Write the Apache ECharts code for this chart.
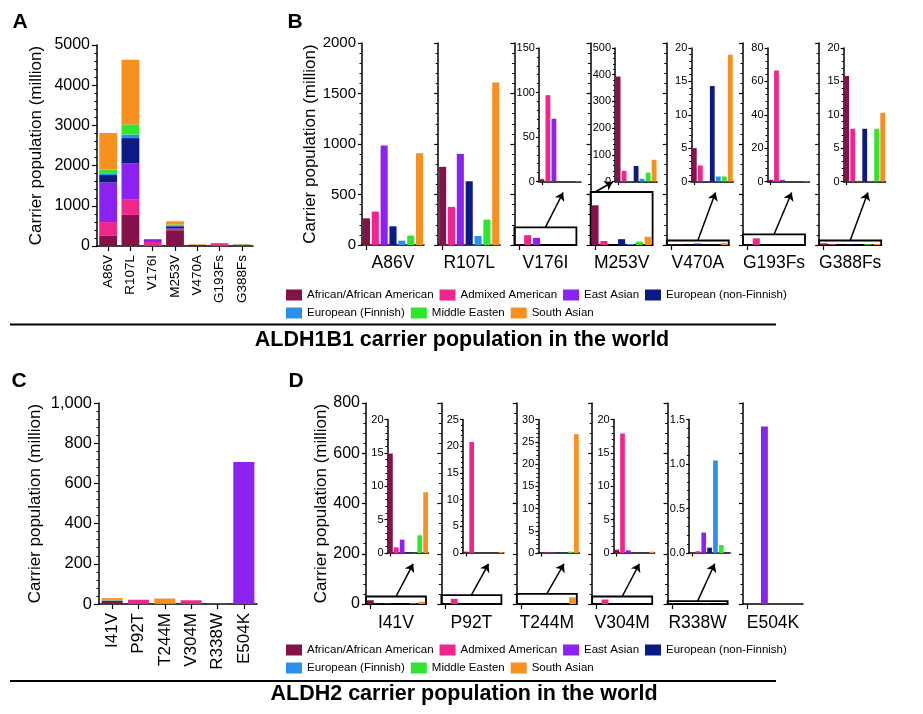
<!DOCTYPE html>
<html>
<head>
<meta charset="utf-8">
<script src="https://cdn.jsdelivr.net/npm/echarts@6.0.0/dist/echarts.min.js"></script>
<style>
  html, body { margin: 0; padding: 0; background: #fff; }
  #chart { width: 923px; height: 714px; }
</style>
</head>
<body>
<div id="chart"></div>
<script>
'use strict';

// populations, same order in every panel
const POPULATIONS = ['African/African American', 'Admixed American', 'East Asian',
  'European (non-Finnish)', 'European (Finnish)', 'Middle Easten', 'South Asian'];
const POP_COLORS = ['#86104a', '#f0268c', '#8b22f2', '#0c1a86', '#2a90ee', '#2ee62e', '#f7901e'];

// ALDH1B1 carriers (million), one array per population, one value per variant
const ALDH1B1_VARIANTS = ['A86V', 'R107L', 'V176I', 'M253V', 'V470A', 'G193Fs', 'G388Fs'];
const ALDH1B1_AFRICAN     = [264, 774, 2.6, 393, 5.0, 1.0, 15.8];
const ALDH1B1_ADMIXED     = [331, 377, 97, 40, 2.4, 66.5, 7.9];
const ALDH1B1_EAST_ASIAN  = [985, 902, 70.5, 0, 0, 1.0, 0.1];
const ALDH1B1_EUR_NONFIN  = [185, 631, 0, 58, 14.3, 0, 7.9];
const ALDH1B1_EUR_FIN     = [43, 89, 0, 10, 0.75, 0, 0.1];
const ALDH1B1_MID_EAST    = [93, 251, 0, 33, 0.75, 0, 7.9];
const ALDH1B1_SOUTH_ASIAN = [909, 1610, 0.5, 81, 19.0, 0.3, 10.3];
const ALDH1B1_INSET_MAX   = [null, null, 150, 500, 20, 80, 20];
const ALDH1B1_INSET_STEP  = [null, null, 50, 100, 5, 20, 5];

// ALDH2 carriers (million)
const ALDH2_VARIANTS = ['I41V', 'P92T', 'T244M', 'V304M', 'R338W', 'E504K'];
const ALDH2_AFRICAN     = [14.9, 0.25, 0, 0.5, 0, 0];
const ALDH2_ADMIXED     = [0.85, 20.8, 0.1, 17.9, 0.02, 0];
const ALDH2_EAST_ASIAN  = [2.0, 0, 0.1, 0.4, 0.23, 706];
const ALDH2_EUR_NONFIN  = [0.1, 0, 0.1, 0, 0.06, 0];
const ALDH2_EUR_FIN     = [0, 0, 0, 0, 1.04, 0];
const ALDH2_MID_EAST    = [2.65, 0, 0.3, 0, 0.09, 0];
const ALDH2_SOUTH_ASIAN = [9.1, 0.2, 26.7, 0.2, 0, 0];
const ALDH2_INSET_MAX   = [20, 25, 30, 20, 1.5, null];
const ALDH2_INSET_STEP  = [5, 5, 5, 5, 0.5, null];

const ALDH1B1_TABLE = [ALDH1B1_AFRICAN, ALDH1B1_ADMIXED, ALDH1B1_EAST_ASIAN, ALDH1B1_EUR_NONFIN,
  ALDH1B1_EUR_FIN, ALDH1B1_MID_EAST, ALDH1B1_SOUTH_ASIAN];
const ALDH2_TABLE = [ALDH2_AFRICAN, ALDH2_ADMIXED, ALDH2_EAST_ASIAN, ALDH2_EUR_NONFIN,
  ALDH2_EUR_FIN, ALDH2_MID_EAST, ALDH2_SOUTH_ASIAN];

const FONT = '"Liberation Sans", Arial, Helvetica, sans-serif';
const Y_TITLE = 'Carrier population (million)';
const BLACK = '#000';

const grids = [];
const xAxes = [];
const yAxes = [];
const series = [];

function plainNumber(v) { return String(v); }

function column(table, j) { return table.map(row => row[j]); }

function coloredBars(values) {
  return values.map((v, i) => ({ value: v, itemStyle: { color: POP_COLORS[i] } }));
}

function addGrid(left, top, width, height) {
  grids.push({ left: left, top: top, width: width, height: height,
    containLabel: false, outerBoundsMode: 'none' });
  return grids.length - 1;
}

function addCategoryAxis(gridIndex, categories, opts) {
  const axis = {
    type: 'category', gridIndex: gridIndex, data: categories, boundaryGap: true,
    axisLine: { show: true, onZero: false, lineStyle: { color: BLACK, width: 1.5 } },
    axisTick: { show: true, alignWithLabel: true, length: opts.tickLength || 5,
      lineStyle: { color: BLACK, width: 1.2 } },
    axisLabel: Object.assign({ show: false, color: BLACK, fontFamily: FONT }, opts.axisLabel),
    splitLine: { show: false }
  };
  if (opts.name) {
    axis.name = opts.name;
    axis.nameLocation = 'middle';
    axis.nameGap = opts.nameGap;
    axis.nameTextStyle = { color: BLACK, fontFamily: FONT, fontSize: opts.nameSize };
  }
  xAxes.push(axis);
  return xAxes.length - 1;
}

function addValueAxis(gridIndex, max, interval, opts) {
  const axis = {
    type: 'value', gridIndex: gridIndex, min: 0, max: max, interval: interval,
    axisLine: { show: true, lineStyle: { color: BLACK, width: 1.5 } },
    axisTick: { show: true, length: opts.tickLength || 4, lineStyle: { color: BLACK, width: 1.2 } },
    minorTick: { show: true, splitNumber: 5, length: opts.minorLength || 2.5,
      lineStyle: { color: BLACK, width: 1 } },
    splitLine: { show: false },
    minorSplitLine: { show: false },
    axisLabel: Object.assign({ show: false, color: BLACK, fontFamily: FONT, margin: 6 }, opts.axisLabel)
  };
  if (opts.name) {
    axis.name = opts.name;
    axis.nameLocation = 'middle';
    axis.nameGap = opts.nameGap;
    axis.nameTextStyle = { color: BLACK, fontFamily: FONT, fontSize: 17 };
  }
  yAxes.push(axis);
  return yAxes.length - 1;
}

// stacked totals per variant (panels A and C)
function buildStackedPanel(cfg) {
  const g = addGrid(cfg.left, cfg.top, cfg.width, cfg.height);
  const x = addCategoryAxis(g, cfg.variants, {
    axisLabel: { show: true, rotate: 90, fontSize: cfg.labelSize, margin: 9, interval: 0 }
  });
  const y = addValueAxis(g, cfg.max, cfg.interval, {
    tickLength: 5,
    axisLabel: { show: true, fontSize: cfg.tickSize, formatter: cfg.formatter, margin: 7 },
    name: Y_TITLE, nameGap: cfg.yNameGap
  });
  cfg.table.forEach((values, i) => {
    series.push({
      type: 'bar', name: POPULATIONS[i], stack: cfg.stack, xAxisIndex: x, yAxisIndex: y,
      barWidth: '80%', itemStyle: { color: POP_COLORS[i] }, data: values
    });
  });
}

// one small panel per variant, with a zoomed inset where the bars are tiny (panels B and D)
function buildGroupedPanels(cfg) {
  const perPx = cfg.max / cfg.height;
  cfg.variants.forEach((variant, j) => {
    const left = cfg.left + j * cfg.step;
    const g = addGrid(left, cfg.top, cfg.width, cfg.height);
    const x = addCategoryAxis(g, POPULATIONS, {
      name: variant, nameGap: cfg.xNameGap, nameSize: cfg.xNameSize
    });
    const yOpts = {};
    if (j === 0) {
      yOpts.axisLabel = { show: true, fontSize: cfg.tickSize, formatter: plainNumber };
      yOpts.name = Y_TITLE;
      yOpts.nameGap = cfg.yNameGap;
    }
    const y = addValueAxis(g, cfg.max, cfg.interval, yOpts);
    const values = column(cfg.table, j);
    const main = {
      type: 'bar', name: cfg.gene + ' ' + variant, xAxisIndex: x, yAxisIndex: y,
      barWidth: '80%', data: coloredBars(values)
    };
    const insetMax = cfg.insetMax[j];
    if (insetMax != null) {
      const boxTop = insetMax + 2.5 * perPx;
      main.markArea = {
        silent: true,
        itemStyle: { color: 'rgba(255,255,255,0)', borderColor: BLACK, borderWidth: 1.8 },
        data: [[{ yAxis: 0 }, { yAxis: boxTop }]]
      };
      const tall = boxTop > cfg.max / 5;
      const from = tall ? 0 : 3;
      const endY = tall ? boxTop + 10 * perPx : cfg.arrowEnd;
      main.markLine = {
        silent: true, symbol: ['none', 'arrow'], symbolSize: 8,
        lineStyle: { color: BLACK, width: 1.5, type: 'solid' },
        label: { show: false },
        data: [[{ xAxis: POPULATIONS[from], yAxis: boxTop },
                { xAxis: POPULATIONS[from + 2], yAxis: endY }]]
      };

      const step = cfg.insetStep[j];
      const gi = addGrid(left + cfg.insetOffset, cfg.insetTop, cfg.insetWidth, cfg.insetHeight);
      const xi = addCategoryAxis(gi, POPULATIONS, { tickLength: 3.5 });
      const yi = addValueAxis(gi, insetMax, step, {
        tickLength: 3, minorLength: 2,
        axisLabel: { show: true, fontSize: 11, margin: 4,
          formatter: step < 1 ? (v => v.toFixed(1)) : plainNumber }
      });
      series.push({
        type: 'bar', name: cfg.gene + ' ' + variant + ' inset', xAxisIndex: xi, yAxisIndex: yi,
        barWidth: '80%', data: coloredBars(values)
      });
    }
    series.push(main);
  });
}

buildStackedPanel({
  variants: ALDH1B1_VARIANTS, table: ALDH1B1_TABLE, stack: 'A',
  left: 97, top: 45, width: 156, height: 201,
  max: 5000, interval: 1000, tickSize: 16, labelSize: 13.5, yNameGap: 52, formatter: plainNumber
});

buildGroupedPanels({
  gene: 'ALDH1B1', variants: ALDH1B1_VARIANTS, table: ALDH1B1_TABLE,
  insetMax: ALDH1B1_INSET_MAX, insetStep: ALDH1B1_INSET_STEP,
  left: 362, step: 76.2, width: 62, top: 43, height: 202,
  max: 2000, interval: 500, tickSize: 15, yNameGap: 41, xNameGap: 9, xNameSize: 17.5,
  insetOffset: 24.5, insetWidth: 42, insetTop: 48, insetHeight: 133.5, arrowEnd: 520
});

buildStackedPanel({
  variants: ALDH2_VARIANTS, table: ALDH2_TABLE, stack: 'C',
  left: 99, top: 403, width: 158, height: 201,
  max: 1000, interval: 200, tickSize: 16.5, labelSize: 17, yNameGap: 55
});

buildGroupedPanels({
  gene: 'ALDH2', variants: ALDH2_VARIANTS, table: ALDH2_TABLE,
  insetMax: ALDH2_INSET_MAX, insetStep: ALDH2_INSET_STEP,
  left: 366, step: 75.4, width: 60, top: 403, height: 201,
  max: 800, interval: 200, tickSize: 16, yNameGap: 36, xNameGap: 10, xNameSize: 17.5,
  insetOffset: 21.5, insetWidth: 41, insetTop: 419.5, insetHeight: 133.5, arrowEnd: 160
});

function legendAt(top) {
  return {
    data: POPULATIONS, left: 286, top: top, width: 520, padding: 0,
    itemGap: 6, itemWidth: 16, itemHeight: 11, icon: 'rect', selectedMode: false,
    textStyle: { color: BLACK, fontFamily: FONT, fontSize: 11.5 }
  };
}

function label(text, x, y, size) {
  return { type: 'text', x: x, y: y, silent: true,
    style: { text: text, fill: BLACK, font: 'bold ' + size + 'px ' + FONT,
      align: 'center', verticalAlign: 'middle', textAlign: 'center', textVerticalAlign: 'middle' } };
}

function rule(y) {
  return { type: 'line', silent: true, shape: { x1: 10, y1: y, x2: 776, y2: y },
    style: { stroke: BLACK, lineWidth: 2 } };
}

const chart = echarts.init(document.getElementById('chart'), null, { renderer: 'canvas' });
chart.setOption({
  animation: false,
  backgroundColor: '#fff',
  textStyle: { fontFamily: FONT },
  grid: grids,
  xAxis: xAxes,
  yAxis: yAxes,
  legend: [legendAt(289), legendAt(644)],
  series: series,
  graphic: [
    label('A', 20, 22, 21),
    label('B', 295, 22, 21),
    label('C', 19, 381, 21),
    label('D', 296, 381, 21),
    rule(324.5),
    label('ALDH1B1 carrier population in the world', 462, 340, 21.5),
    rule(681),
    label('ALDH2 carrier population in the world', 464, 694, 21.5)
  ]
});
</script>
</body>
</html>
